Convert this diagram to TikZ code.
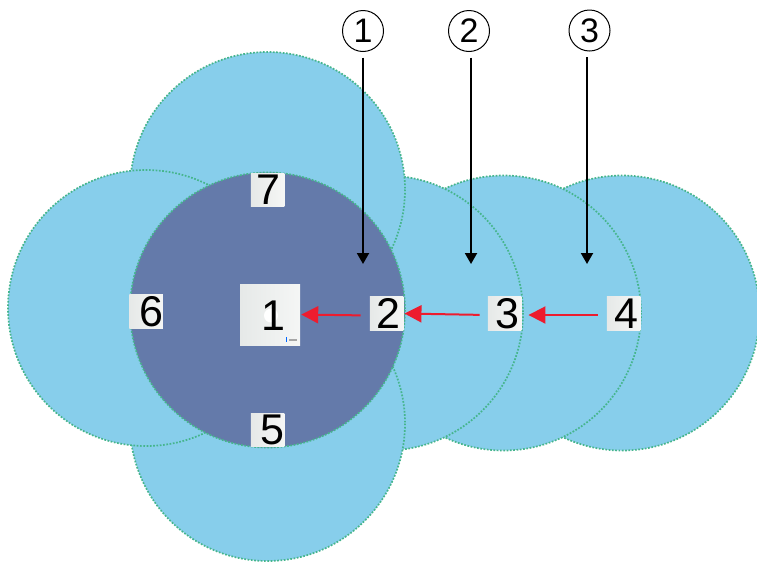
\documentclass[tikz,border=0pt]{standalone}
\usepackage{fontspec}
\setmainfont{Liberation Sans}
\usetikzlibrary{arrows.meta}
\definecolor{lightcell}{HTML}{87CEEB}
\definecolor{darkcell}{HTML}{647AAA}
\definecolor{celledge}{HTML}{45B58C}
\definecolor{redarrow}{HTML}{ED1C2E}
\definecolor{panelA}{HTML}{E6E9E8}
\definecolor{panelB}{HTML}{F5F6F5}
\newcommand{\dgshift}[2]{\makebox[0pt]{\kern#1pt #2}}
\tikzset{
  cellcircle/.style={fill=lightcell,draw=celledge,line width=1.7pt,dash pattern=on 1.7pt off 1.6pt},
  centercell/.style={cellcircle,fill=darkcell},
  panel/.style={rectangle,inner sep=0pt,left color=panelA,right color=panelB,font=\fontsize{43}{43}\selectfont,text=black},
  smallpanel/.style={panel,minimum width=33.5pt,minimum height=33.5pt},
  bigpanel/.style={panel,minimum width=60pt,minimum height=61pt},
  zonelabel/.style={circle,draw=black,line width=1pt,minimum size=41pt,inner sep=0pt,font=\fontsize{34}{34}\selectfont},
  redlink/.style={draw=redarrow,line width=2pt,-{Triangle[length=17pt,width=17pt]}},
  blacklink/.style={draw=black,line width=2pt,-{Triangle[length=11pt,width=12pt]}}
}
\begin{document}
\begin{tikzpicture}[x=1pt,y=-1pt]
\useasboundingbox (0,0) rectangle (757,563);
\fill[white] (0,0) rectangle (757,563);
\begin{scope}
\clip (0,0) rectangle (757,563);
\draw[cellcircle] (622,313) circle (137.5);
\draw[cellcircle] (503.5,313) circle (137.5);
\draw[cellcircle] (385.5,313) circle (137.5);
\draw[cellcircle] (267.5,189.5) circle (137.5);
\draw[cellcircle] (267.5,423.5) circle (137.5);
\draw[cellcircle] (146,308) circle (138);
\draw[centercell] (267.5,310) circle (137.5);
\end{scope}
\node[bigpanel] (n1) at (270,314.5) {};
\fill[white] (n1.center) ++(1,1) circle (7);
\node[font=\fontsize{43}{43}\selectfont,inner sep=0pt] (d1) at (273,315.5) {1};
\fill[blue!60!cyan] (285.5,337) rectangle (287,342);
\fill[gray!70] (289,338.5) rectangle (297,340.5);
\node[smallpanel] (n2) at (386.5,313.5) {\dgshift{3}{2}};
\node[smallpanel] (n3) at (504.5,313.5) {\dgshift{5}{3}};
\node[smallpanel] (n4) at (623.5,313.5) {\dgshift{5}{4}};
\node[smallpanel] (n5) at (267.5,430) {\dgshift{9}{5}};
\node[smallpanel] (n6) at (146,311.5) {\dgshift{10}{6}};
\node[smallpanel] (n7) at (267.5,190) {\dgshift{1}{7}};
\node[zonelabel] (z1) at (363,31) {1};
\node[zonelabel] (z2) at (469,31) {2};
\node[zonelabel] (z3) at (589.5,30.5) {3};
\coordinate (t1) at (363,264);
\coordinate (t2) at (471,264);
\coordinate (t3) at (587,264);
\draw[blacklink,shorten <=5.5pt] (z1.south) -- (t1);
\draw[blacklink,shorten <=5.5pt] ([xshift=2pt]z2.south) -- (t2);
\draw[blacklink,shorten <=5.5pt] ([xshift=-2.5pt]z3.south) -- (t3);
\draw[redlink,shorten <=9pt,shorten >=1pt] ([yshift=-2pt]n2.west) -- (n1.east);
\draw[redlink,shorten <=8pt,shorten >=1pt] ([yshift=-1.5pt]n3.west) -- (n2.east);
\draw[redlink,shorten <=9pt,shorten >=7pt] ([yshift=-1.5pt]n4.west) -- ([yshift=-1.5pt]n3.east);
\end{tikzpicture}
\end{document}
